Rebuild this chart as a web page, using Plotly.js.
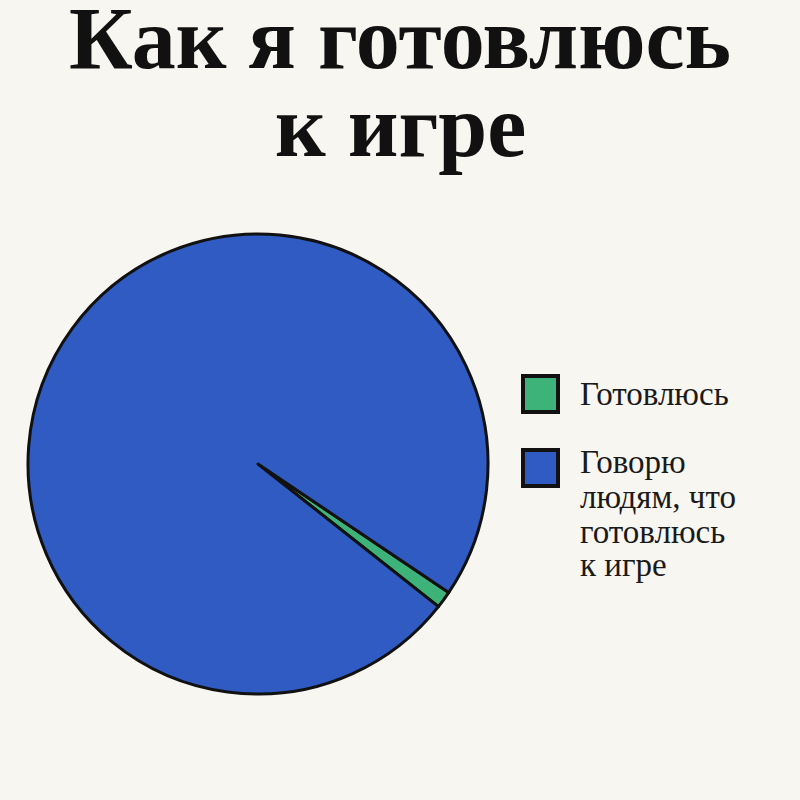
<!DOCTYPE html>
<html>
<head>
<meta charset="utf-8">
<script src="https://cdn.plot.ly/plotly-3.0.1.min.js"></script>
<style>
  html, body { margin: 0; padding: 0; background: #f8f6f1; }
  #chart { width: 800px; height: 800px; }
</style>
</head>
<body>
<div id="chart"></div>
<script>
// slices
var labels = ["Готовлюсь", "Говорю людям, что готовлюсь к игре"];
var legendLines = [["Готовлюсь"], ["Говорю", "людям, что", "готовлюсь", "к игре"]];
var values = [1.2, 98.8];
var colors = ["#3db37a", "#2f5bc3"];
var titleLines = ["Как я готовлюсь", "к игре"];

var bg = "#f8f6f1";
var serif = "Liberation Serif, DejaVu Serif, serif";

var shapes = [];
var annotations = [];

// title, one annotation per line (middle of the text box, px from top)
var titleMid = [39, 127];
titleLines.forEach(function(line, i) {
  annotations.push({
    xref: "paper", yref: "paper",
    x: 0.5, y: 1 - titleMid[i] / 800,
    xanchor: "center", yanchor: "middle",
    showarrow: false,
    text: "<b>" + line + "</b>",
    font: { family: serif, size: 88, color: "#111" }
  });
});

// hand-made legend: big squares with thick black borders,
// every label line placed on its own (tight line spacing)
var legendTop = [376, 450];
var legendMid = [[394], [462, 497, 532, 565]];
legendTop.forEach(function(top, i) {
  shapes.push({
    type: "rect", xref: "paper", yref: "paper",
    x0: 523 / 800, x1: 558 / 800,
    y0: 1 - top / 800, y1: 1 - (top + 36) / 800,
    fillcolor: colors[i],
    line: { color: "#111", width: 4 }
  });
  legendLines[i].forEach(function(txt, j) {
    annotations.push({
      xref: "paper", yref: "paper",
      x: 578 / 800, y: 1 - legendMid[i][j] / 800,
      xanchor: "left", yanchor: "middle", align: "left",
      showarrow: false,
      text: txt,
      font: { family: serif, size: 33, color: "#1a1a1a" }
    });
  });
});

var data = [{
  type: "pie",
  labels: labels,
  values: values,
  sort: false,
  direction: "clockwise",
  rotation: 124,
  marker: { colors: colors, line: { color: "#111", width: 3 } },
  textinfo: "none",
  hoverinfo: "label+percent",
  domain: { x: [28 / 800, 488 / 800], y: [1 - 694 / 800, 1 - 234 / 800] }
}];

var layout = {
  width: 800,
  height: 800,
  paper_bgcolor: bg,
  plot_bgcolor: bg,
  margin: { t: 0, b: 0, l: 0, r: 0 },
  showlegend: false,
  shapes: shapes,
  annotations: annotations
};

Plotly.newPlot("chart", data, layout, { displayModeBar: false });
</script>
</body>
</html>
